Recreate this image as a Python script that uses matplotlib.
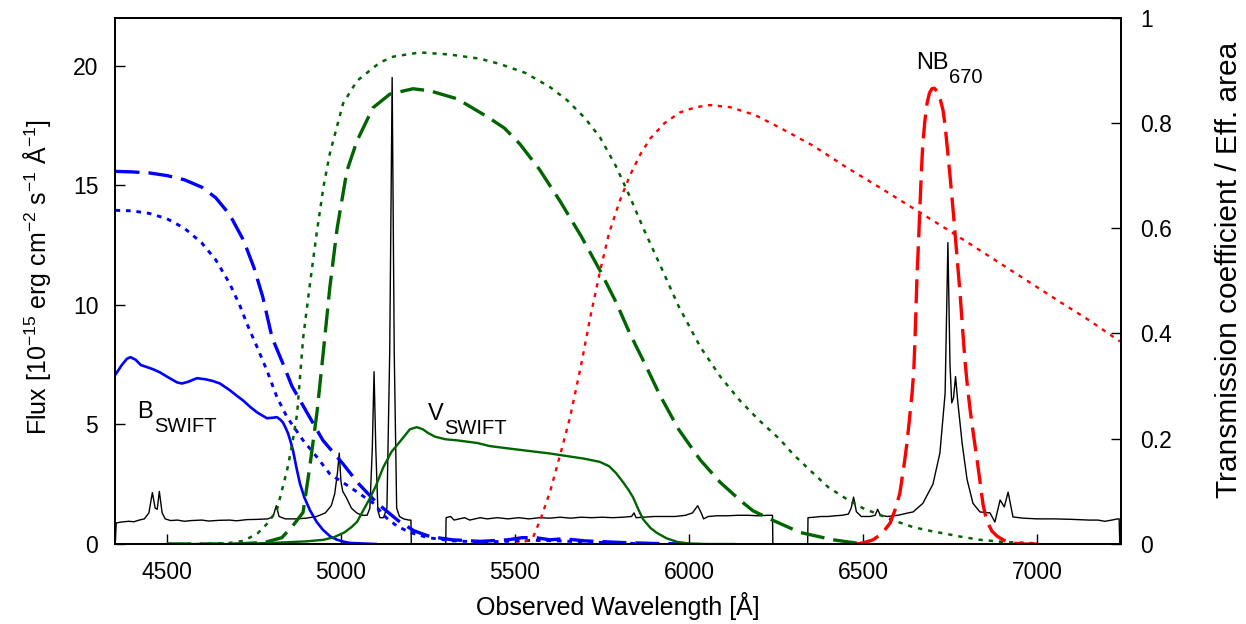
import matplotlib
matplotlib.use('Agg')
import matplotlib.pyplot as plt
from matplotlib.ticker import FixedLocator, FuncFormatter

plt.rcParams['font.family'] = ['Liberation Sans', 'DejaVu Sans']
plt.rcParams['mathtext.fontset'] = 'custom'
plt.rcParams['mathtext.rm'] = 'Liberation Sans'
plt.rcParams['mathtext.it'] = 'Liberation Sans:italic'
plt.rcParams['mathtext.bf'] = 'Liberation Sans:bold'

# ---------------- data ----------------
# observed spectrum (left axis, 1e-15 erg/cm2/s/A)
spec_wave = [4352, 4354, 4370, 4390, 4405, 4420, 4435, 4448, 4458, 4466, 4472, 4478, 4486, 4495,
             4510, 4530, 4550, 4570, 4600, 4620, 4650, 4680, 4700, 4730, 4760, 4790, 4805, 4814,
             4822, 4840, 4870, 4900, 4930, 4955, 4972, 4982, 4990, 4995, 5000, 5005, 5015, 5030,
             5045, 5060, 5075, 5083, 5090, 5095, 5100, 5106, 5112, 5122, 5132, 5140, 5147, 5153,
             5160, 5168, 5180, 5195, 5201, 5202,
             5301, 5302, 5315, 5325, 5340, 5355, 5370, 5385, 5400, 5420, 5450, 5480, 5510, 5540,
             5570, 5600, 5630, 5660, 5690, 5720, 5750, 5780, 5810, 5835, 5842, 5848, 5870, 5900,
             5930, 5960, 5990, 6010, 6025, 6035, 6042, 6055, 6080, 6110, 6140, 6170, 6200, 6225,
             6240, 6241,
             6341, 6342, 6360, 6380, 6400, 6420, 6440, 6458, 6466, 6473, 6481, 6495, 6520, 6535,
             6542, 6550, 6570, 6600, 6630, 6644, 6672, 6701, 6721, 6736, 6744, 6750, 6755, 6760,
             6766, 6772, 6785, 6799, 6816, 6836, 6865, 6879, 6894, 6906, 6917, 6931, 6960, 7000,
             7050, 7100, 7150, 7175, 7195, 7215, 7232, 7236, 7238]
spec_flux = [0.15, 0.88, 0.92, 0.95, 0.93, 1.00, 1.05, 1.30, 2.15, 1.50, 1.45, 2.20, 1.30, 1.05,
             0.98, 1.00, 0.95, 0.98, 1.00, 0.96, 0.99, 1.00, 0.97, 1.02, 1.03, 1.05, 1.15, 1.60,
             1.15, 1.05, 1.05, 1.08, 1.15, 1.30, 1.60, 2.10, 3.00, 3.80, 2.60, 2.20, 1.95, 1.50,
             1.30, 1.20, 1.20, 1.50, 4.00, 7.20, 4.00, 1.40, 1.10, 1.10, 1.50, 8.00, 19.5, 8.00,
             1.50, 1.15, 1.05, 1.00, 1.00, 0.00,
             0.00, 1.10, 1.15, 1.00, 1.05, 1.10, 1.00, 1.05, 1.10, 1.05, 1.10, 1.05, 1.10, 1.05,
             1.10, 1.08, 1.12, 1.08, 1.12, 1.10, 1.12, 1.10, 1.12, 1.15, 1.30, 1.10, 1.12, 1.15,
             1.15, 1.15, 1.20, 1.30, 1.60, 1.30, 1.05, 1.15, 1.18, 1.18, 1.20, 1.20, 1.18, 1.20,
             1.20, 0.00,
             0.00, 1.10, 1.12, 1.15, 1.15, 1.18, 1.20, 1.25, 1.50, 1.96, 1.35, 1.15, 1.15, 1.20,
             1.45, 1.20, 1.15, 1.20, 1.30, 1.34, 1.70, 2.50, 3.80, 6.30, 12.6, 7.50, 5.90, 6.10,
             7.00, 6.00, 4.20, 2.70, 1.70, 1.34, 1.30, 0.92, 1.84, 1.55, 2.17, 1.13, 1.08, 1.05,
             1.05, 1.03, 1.00, 1.00, 0.95, 1.00, 1.05, 1.05, 0.00]

# B band curves (right axis)
b_dash_wave = [4352, 4400, 4450, 4500, 4550, 4600, 4640, 4680, 4720, 4750, 4775, 4802, 4833, 4859,
               4902, 4948, 5006, 5050, 5103, 5165, 5210, 5256, 5320, 5400, 5480, 5520, 5560, 5600,
               5640, 5700, 5800, 5900, 6000]
b_dash_val = [0.708, 0.707, 0.705, 0.700, 0.692, 0.678, 0.658, 0.626, 0.577, 0.525, 0.470, 0.392,
              0.343, 0.300, 0.250, 0.197, 0.152, 0.115, 0.078, 0.044, 0.025, 0.014, 0.008, 0.005,
              0.008, 0.012, 0.012, 0.008, 0.010, 0.006, 0.003, 0.001, 0.000]

b_dot_wave = [4352, 4400, 4450, 4500, 4550, 4600, 4640, 4680, 4710, 4730, 4759, 4787, 4816, 4845,
              4891, 4931, 4968, 5026, 5092, 5130, 5161, 5198, 5250, 5320, 5400, 5480, 5550, 5620,
              5700, 5800, 5900]
b_dot_val = [0.634, 0.633, 0.628, 0.618, 0.600, 0.572, 0.540, 0.495, 0.452, 0.418, 0.374, 0.330,
             0.279, 0.241, 0.197, 0.165, 0.133, 0.108, 0.078, 0.050, 0.034, 0.022, 0.012, 0.006,
             0.004, 0.005, 0.007, 0.006, 0.004, 0.002, 0.000]

b_swift_wave = [4352, 4370, 4385, 4395, 4410, 4425, 4443, 4460, 4480, 4500, 4529, 4543, 4560, 4586,
                4610, 4630, 4652, 4681, 4700, 4718, 4740, 4759, 4787, 4805, 4816, 4826, 4833, 4840,
                4848, 4855, 4862, 4872, 4882, 4895, 4911, 4930, 4948, 4970, 4989, 5010, 5026, 5060,
                5100]
b_swift_val = [0.322, 0.340, 0.352, 0.355, 0.350, 0.340, 0.336, 0.332, 0.326, 0.318, 0.307, 0.305,
               0.308, 0.315, 0.313, 0.310, 0.305, 0.292, 0.282, 0.273, 0.260, 0.250, 0.239, 0.240,
               0.241, 0.236, 0.231, 0.222, 0.210, 0.195, 0.178, 0.145, 0.115, 0.088, 0.064, 0.042,
               0.027, 0.014, 0.008, 0.004, 0.002, 0.001, 0.000]

# V band curves (right axis)
v_dash_wave = [4500, 4700, 4780, 4830, 4862, 4891, 4911, 4931, 4950, 4968, 4989, 5017, 5046, 5092,
               5141, 5207, 5256, 5333, 5420, 5470, 5514, 5570, 5629, 5690, 5744, 5790, 5830, 5875,
               5917, 5970, 6032, 6090, 6147, 6184, 6241, 6319, 6414, 6500]
v_dash_val = [0.000, 0.000, 0.003, 0.012, 0.035, 0.060, 0.150, 0.250, 0.370, 0.488, 0.600, 0.709,
              0.766, 0.829, 0.855, 0.865, 0.861, 0.846, 0.812, 0.790, 0.760, 0.712, 0.652, 0.585,
              0.520, 0.460, 0.400, 0.340, 0.282, 0.218, 0.160, 0.117, 0.083, 0.063, 0.045, 0.022,
              0.008, 0.000]

v_dot_wave = [4500, 4600, 4680, 4720, 4760, 4790, 4816, 4845, 4860, 4874, 4891, 4910, 4930, 4950,
              4968, 5006, 5046, 5112, 5150, 5227, 5313, 5400, 5457, 5530, 5601, 5650, 5700, 5744,
              5790, 5830, 5870, 5917, 5970, 6032, 6090, 6147, 6200, 6261, 6300, 6356, 6400, 6454,
              6500, 6549, 6600, 6644, 6700, 6741, 6780, 6836, 6900, 6980, 7000]
v_dot_val = [0.000, 0.000, 0.002, 0.006, 0.020, 0.040, 0.065, 0.140, 0.190, 0.248, 0.390, 0.490,
             0.590, 0.680, 0.742, 0.837, 0.880, 0.915, 0.926, 0.934, 0.930, 0.922, 0.912, 0.895,
             0.868, 0.843, 0.810, 0.773, 0.718, 0.660, 0.598, 0.530, 0.452, 0.375, 0.318, 0.272,
             0.236, 0.199, 0.170, 0.135, 0.108, 0.085, 0.068, 0.055, 0.042, 0.032, 0.024, 0.019,
             0.014, 0.008, 0.004, 0.002, 0.000]

v_swift_wave = [4500, 4700, 4800, 4900, 4950, 4980, 5010, 5030, 5046, 5065, 5083, 5100, 5121, 5145,
                5170, 5198, 5218, 5235, 5250, 5270, 5300, 5333, 5391, 5428, 5500, 5550, 5600, 5650,
                5700, 5744, 5770, 5790, 5810, 5825, 5839, 5855, 5868, 5890, 5908, 5935, 5966, 6000,
                6050, 6130]
v_swift_val = [0.000, 0.000, 0.002, 0.005, 0.008, 0.013, 0.022, 0.032, 0.042, 0.065, 0.087, 0.110,
               0.145, 0.175, 0.195, 0.218, 0.222, 0.218, 0.211, 0.204, 0.199, 0.197, 0.192, 0.186,
               0.180, 0.176, 0.172, 0.167, 0.162, 0.156, 0.148, 0.135, 0.118, 0.104, 0.089, 0.065,
               0.047, 0.030, 0.021, 0.011, 0.004, 0.001, 0.000, 0.000]

# R band and narrow band (right axis)
r_dot_wave = [5500, 5530, 5552, 5575, 5601, 5630, 5658, 5690, 5716, 5745, 5770, 5800, 5830, 5860,
              5888, 5930, 5974, 6020, 6060, 6118, 6190, 6261, 6356, 6454, 6549, 6644, 6741, 6836,
              6951, 7066, 7150, 7238]
r_dot_val = [0.000, 0.005, 0.013, 0.050, 0.100, 0.170, 0.240, 0.340, 0.430, 0.520, 0.590, 0.650,
             0.700, 0.740, 0.770, 0.800, 0.820, 0.830, 0.834, 0.830, 0.815, 0.791, 0.757, 0.715,
             0.677, 0.638, 0.598, 0.558, 0.509, 0.460, 0.425, 0.385]

nb_wave = [6480, 6500, 6529, 6555, 6578, 6595, 6606, 6618, 6626, 6634, 6641, 6646, 6649, 6652, 6655,
           6660, 6664, 6668, 6672, 6678, 6684, 6691, 6698, 6705, 6713, 6722, 6730, 6736, 6741, 6750,
           6759, 6769, 6779, 6786, 6793, 6800, 6808, 6818, 6828, 6836, 6845, 6855, 6870, 6885, 6905,
           6925, 6960, 7000]
nb_val = [0.000, 0.002, 0.008, 0.020, 0.040, 0.070, 0.097, 0.150, 0.190, 0.240, 0.286, 0.330, 0.381,
          0.440, 0.507, 0.580, 0.647, 0.710, 0.761, 0.805, 0.837, 0.857, 0.865, 0.866, 0.860, 0.845,
          0.824, 0.795, 0.761, 0.700, 0.634, 0.555, 0.476, 0.410, 0.349, 0.300, 0.254, 0.205, 0.159,
          0.120, 0.075, 0.045, 0.025, 0.015, 0.007, 0.002, 0.000, 0.000]

xticks = [4500, 5000, 5500, 6000, 6500, 7000]
yticks_left = [0, 5, 10, 15, 20]
yticks_right = [0, 0.2, 0.4, 0.6, 0.8, 1.0]

# ---------------- figure ----------------
W, H = 1246, 624
fig = plt.figure(figsize=(W / 100, H / 100), dpi=100)
ax = fig.add_axes([115 / W, 1 - 544 / H, (1121 - 115) / W, (544 - 17.7) / H])
ax2 = ax.twinx()

blue = '#0000ff'
green = '#006400'
red = '#ff0000'

ax.plot(spec_wave, spec_flux, color='black', lw=1.0, zorder=3)

ax2.plot(b_swift_wave, b_swift_val, color=blue, lw=1.9, solid_joinstyle='round')
ax2.plot(b_dash_wave, b_dash_val, color=blue, lw=2.4, dashes=(7.2, 2.7))
ax2.plot(b_dot_wave, b_dot_val, color=blue, lw=2.1, dashes=(1.6, 2.0))
ax2.plot(v_swift_wave, v_swift_val, color=green, lw=1.7, solid_joinstyle='round')
ax2.plot(v_dash_wave, v_dash_val, color=green, lw=2.4, dashes=(7.2, 2.7))
ax2.plot(v_dot_wave, v_dot_val, color=green, lw=1.8, dashes=(1.7, 2.4))
ax2.plot(r_dot_wave, r_dot_val, color=red, lw=1.7, dashes=(1.8, 2.4))
ax2.plot(nb_wave, nb_val, color=red, lw=2.4, dashes=(7.2, 2.7))

ax.set_xlim(4350.6, 7241.4)
ax.set_ylim(0, 22)
ax2.set_ylim(0, 1)

tick_fs = 16.5
ax.xaxis.set_major_locator(FixedLocator(xticks))
ax.yaxis.set_major_locator(FixedLocator(yticks_left))
ax2.yaxis.set_major_locator(FixedLocator(yticks_right))
ax2.yaxis.set_major_formatter(FuncFormatter(lambda v, p: f'{v:g}'))
ax.tick_params(axis='x', direction='in', length=7, width=1.0, labelsize=tick_fs, pad=12,
               top=False, bottom=True)
ax.tick_params(axis='y', direction='in', length=7, width=1.0, labelsize=tick_fs, pad=12,
               left=True, right=False)
ax2.tick_params(axis='y', direction='in', length=7, width=1.0, labelsize=tick_fs, pad=14,
                right=True, left=False)
for a in (ax, ax2):
    for s in a.spines.values():
        s.set_linewidth(1.3)

fig.text(618 / W, 1 - 615 / H, 'Observed Wavelength [Å]', ha='center', va='baseline', fontsize=18)
fig.text(37 / W, 1 - 277 / H,
         r'Flux [10$^{-15}$ erg cm$^{-2}$ s$^{-1}$ Å$^{-1}$]',
         ha='center', va='center', rotation=90, fontsize=18)
fig.text(1229 / W, 1 - 270 / H, 'Transmission coefficient / Eff. area',
         ha='center', va='center', rotation=90, fontsize=21.5)

# filter labels: main letter plus lowered, smaller subscript
def label(x, y, main, sub):
    t = ax2.text(x, y, main, fontsize=17, ha='left', va='baseline')
    ax2.annotate(sub, xy=(1, 0), xycoords=t, xytext=(0.5, -6.5), textcoords='offset points',
                 fontsize=14.5, ha='left', va='baseline')

label(4415, 0.239, 'B', 'SWIFT')
label(5250, 0.235, 'V', 'SWIFT')
label(6652, 0.903, 'NB', '670')

fig.savefig('out.png', dpi=100)
